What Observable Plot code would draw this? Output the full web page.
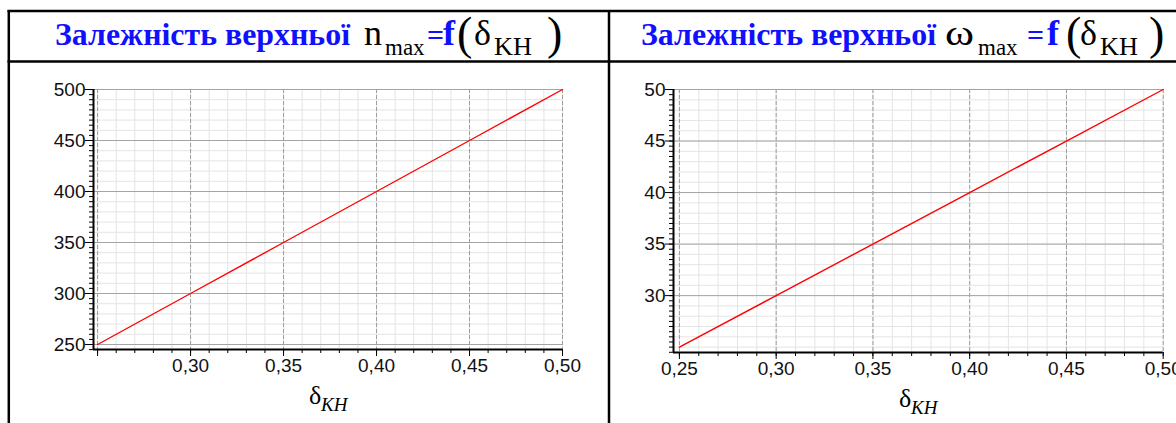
<!DOCTYPE html>
<html><head><meta charset="utf-8">
<script src="https://cdn.jsdelivr.net/npm/d3@7"></script>
<script src="https://cdn.jsdelivr.net/npm/@observablehq/plot@0.6"></script>
<style>
html,body{margin:0;padding:0;background:#fff;overflow:hidden;}
#wrap{position:relative;width:1176px;height:423px;overflow:hidden;background:#fff;}
.panel{position:absolute;top:63px;}
.panel svg{max-width:none;overflow:visible;background:transparent;}
#overlay{position:absolute;left:0;top:0;pointer-events:none;}
</style></head><body><div id="wrap"></div>
<script>
// ---- data ----
const delta = [0.25, 0.30, 0.35, 0.40, 0.45, 0.50];
const nMax = [250, 300, 350, 400, 450, 500];
const omegaMax = [25, 30, 35, 40, 45, 50];

const leftXTicks = [0.30, 0.35, 0.40, 0.45, 0.50];
const leftXLabels = ["0,30", "0,35", "0,40", "0,45", "0,50"];
const leftYTicks = [250, 300, 350, 400, 450, 500];
const leftYLabels = ["250", "300", "350", "400", "450", "500"];

const rightXTicks = [0.25, 0.30, 0.35, 0.40, 0.45, 0.50];
const rightXLabels = ["0,25", "0,30", "0,35", "0,40", "0,45", "0,50"];
const rightYTicks = [30, 35, 40, 45, 50];
const rightYLabels = ["30", "35", "40", "45", "50"];

const titlePrefix = "Залежність верхньої";

// ---- helpers ----
const hundredths = d3.range(25, 51).map(d => d / 100);
const twentieths = d3.range(5, 11).map(d => d / 20);

function chart({w, h, ml, mr, mt, mb, xd, yd, data, xTicks, xLabels, yTicks, yLabels,
                yMinorGrid, yMajorGrid, yMinorTicks}) {
  const fmtX = d => xLabels[xTicks.indexOf(d)];
  const fmtY = d => yLabels[yTicks.indexOf(d)];
  return Plot.plot({
    width: w, height: h,
    marginLeft: ml, marginRight: mr, marginTop: mt, marginBottom: mb,
    x: {domain: xd, label: null, axis: null},
    y: {domain: yd, label: null, axis: null},
    style: {fontFamily: "'Liberation Sans', Arial, sans-serif", fontSize: "19px", color: "#000", background: "transparent", overflow: "visible"},
    marks: [
      Plot.ruleX(hundredths, {stroke: "#e4e4e4", strokeWidth: 1}),
      Plot.ruleY(yMinorGrid, {stroke: "#e4e4e4", strokeWidth: 1}),
      Plot.ruleX(twentieths, {stroke: "#9c9c9c", strokeWidth: 1, strokeDasharray: "4,2"}),
      Plot.ruleY(yMajorGrid, {stroke: "#a4a4a4", strokeWidth: 1}),
      Plot.line(data, {x: "x", y: "y", stroke: "#ff0000", strokeWidth: 1.4}),
      Plot.axisX(hundredths, {tickSize: 4, tickFormat: () => "", label: null, stroke: "#000"}),
      Plot.axisX(twentieths, {tickSize: 7, tickFormat: () => "", label: null, stroke: "#000"}),
      Plot.axisX(xTicks, {tickSize: 0, tickPadding: 9, tickFormat: fmtX, label: null, fill: "#111", fontSize: 19}),
      Plot.axisY(yMinorTicks, {tickSize: 4, tickFormat: () => "", label: null, stroke: "#000"}),
      Plot.axisY(yTicks, {tickSize: 8, tickPadding: 0, tickFormat: fmtY, label: null, stroke: "#000", fill: "#111", fontSize: 19}),
      Plot.ruleX([xd[0]], {stroke: "#000", strokeWidth: 2}),
      Plot.ruleY([yd[0]], {stroke: "#000", strokeWidth: 2})
    ]
  });
}

const wrap = document.getElementById("wrap");

const leftData = delta.map((d, i) => ({x: d, y: nMax[i]}));
const rightData = delta.map((d, i) => ({x: d, y: omegaMax[i]}));

const left = chart({
  w: 598, h: 360, ml: 83, mr: 46, mt: 26, mb: 74,
  xd: [0.2478, 0.5], yd: [245.1, 500], data: leftData,
  xTicks: leftXTicks, xLabels: leftXLabels, yTicks: leftYTicks, yLabels: leftYLabels,
  yMinorGrid: d3.range(26, 51).map(d => d * 10),
  yMajorGrid: leftYTicks,
  yMinorTicks: d3.range(49, 101).map(d => d * 5)
});
const lp = document.createElement("div");
lp.className = "panel"; lp.style.left = "10px"; lp.appendChild(left); wrap.appendChild(lp);

const right = chart({
  w: 565, h: 360, ml: 62, mr: 13.3, mt: 26, mb: 71,
  xd: [0.24695, 0.5], yd: [24.48, 50], data: rightData,
  xTicks: rightXTicks, xLabels: rightXLabels, yTicks: rightYTicks, yLabels: rightYLabels,
  yMinorGrid: d3.range(25, 51),
  yMajorGrid: rightYTicks,
  yMinorTicks: d3.range(49, 101).map(d => d / 2)
});
const rp = document.createElement("div");
rp.className = "panel"; rp.style.left = "611px"; rp.appendChild(right); wrap.appendChild(rp);

// ---- overlay: table frame, titles, axis labels ----
const svg = d3.select(wrap).append("svg").attr("id", "overlay")
  .attr("width", 1176).attr("height", 423);

const lines = svg.append("g").attr("stroke", "#000").attr("stroke-width", 2.5);
lines.append("line").attr("x1", 7.5).attr("x2", 1180).attr("y1", 11).attr("y2", 11);
lines.append("line").attr("x1", 7.5).attr("x2", 1180).attr("y1", 61.5).attr("y2", 61.5);
lines.append("line").attr("x1", 8.8).attr("x2", 8.8).attr("y1", 10).attr("y2", 430);
lines.append("line").attr("x1", 609).attr("x2", 609).attr("y1", 10).attr("y2", 430);

function txt(x, y, s, size, {bold = false, italic = false, fill = "#000", len = null} = {}) {
  const t = svg.append("text").attr("x", x).attr("y", y).text(s)
    .style("font-family", "'Liberation Serif', 'Times New Roman', serif")
    .style("font-size", size + "px")
    .style("font-weight", bold ? "bold" : "normal")
    .style("font-style", italic ? "italic" : "normal")
    .attr("fill", fill);
  if (len) t.attr("textLength", len).attr("lengthAdjust", "spacingAndGlyphs");
}
const blue = "#1010ff";
// left title
txt(55, 45, titlePrefix, 31, {bold: true, fill: blue, len: 295});
txt(364, 45, "n", 36);
txt(385, 55, "max", 23);
txt(427, 45, "=", 30, {bold: true, fill: blue});
txt(443, 45, "f", 36, {bold: true, fill: blue});
txt(457, 49, "(", 46);
txt(474, 45, "δ", 36);
txt(494, 55, "KH", 26, {len: 38});
txt(547, 49, ")", 46);
// right title
txt(641, 45, titlePrefix, 31, {bold: true, fill: blue, len: 295});
txt(945, 45, "ω", 36, {len: 29});
txt(978, 55, "max", 23);
txt(1027, 45, "=", 30, {bold: true, fill: blue});
txt(1047, 45, "f", 36, {bold: true, fill: blue});
txt(1066, 49, "(", 46);
txt(1080, 45, "δ", 36);
txt(1100, 55, "KH", 26, {len: 38});
txt(1149, 49, ")", 46);

// axis titles
txt(309, 404, "δ", 26);
txt(321, 411, "KH", 19, {italic: true});
txt(899, 407, "δ", 26);
txt(911, 414, "KH", 19, {italic: true});
</script></body></html>
